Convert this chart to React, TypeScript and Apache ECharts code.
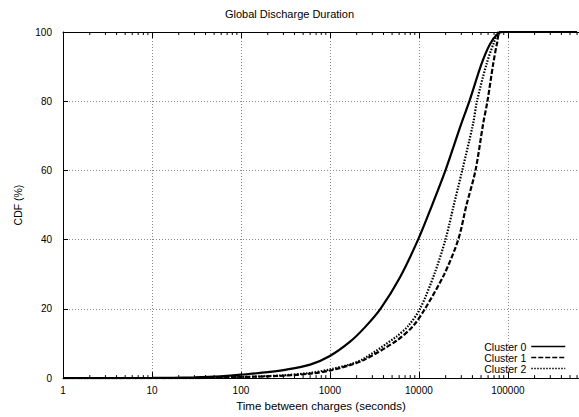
import React, { useEffect, useRef } from "react";
import * as echarts from "echarts";

const titleText = "Global Discharge Duration";
const xAxisName = "Time between charges (seconds)";
const yAxisName = "CDF (%)";
const seriesNames = ["Cluster 0", "Cluster 1", "Cluster 2"];

// [seconds, CDF %]
const cluster0: [number, number][] = [
  [1, 0], [10, 0.05], [30, 0.2], [60, 0.5], [100, 1.0], [200, 1.7], [300, 2.3],
  [600, 3.9], [1000, 6.4], [1700, 10.6], [2500, 14.8], [3700, 20], [6100, 29],
  [9800, 40], [14100, 50], [19900, 60], [30000, 73.5], [37000, 80], [50500, 90.7],
  [62700, 96.4], [77000, 99.5], [90000, 100], [600000, 100],
];
const cluster1: [number, number][] = [
  [1, 0], [30, 0], [100, 0.3], [300, 0.7], [600, 1.3], [1000, 2.2], [1700, 3.8],
  [2400, 5.2], [5600, 10.8], [8650, 15.1], [11700, 20], [19200, 29.9], [27700, 40],
  [34300, 50], [43300, 60], [52800, 73.5], [59000, 80], [68400, 90.7], [76000, 97],
  [83000, 100], [600000, 100],
];
const cluster2: [number, number][] = [
  [1, 0], [30, 0], [100, 0.3], [300, 0.8], [600, 1.5], [1000, 2.5], [1700, 4.0],
  [2400, 5.6], [5600, 12], [7600, 15.1], [10300, 20], [14900, 30], [19900, 40],
  [24700, 50], [30700, 60], [40700, 73.5], [45000, 80], [57600, 90.7], [70000, 97],
  [81000, 100], [600000, 100],
];

const xMin = 1;
const xMax = 630957;
const yTicks = [0, 20, 40, 60, 80, 100];
const minorTickValues = [
  2, 3, 4, 5, 6, 7, 8, 9,
  20, 30, 40, 50, 60, 70, 80, 90,
  200, 300, 400, 500, 600, 700, 800, 900,
  2000, 3000, 4000, 5000, 6000, 7000, 8000, 9000,
  20000, 30000, 40000, 50000, 60000, 70000, 80000, 90000,
  200000, 300000, 400000, 500000, 600000,
];

const FONT = "'Liberation Sans', Arial, Helvetica, sans-serif";

export default function App() {
  const ref = useRef<HTMLDivElement>(null);
  useEffect(() => {
    if (!ref.current) return;
    const chart = echarts.init(ref.current, null, { renderer: "svg" });
    const lineBase = { type: "line", showSymbol: false, symbol: "none", smooth: 0.3, z: 3 };
    chart.setOption({
      animation: false,
      backgroundColor: "#fff",
      textStyle: { fontFamily: FONT },
      title: {
        text: titleText,
        left: "center",
        top: 8,
        padding: 0,
        textStyle: { fontSize: 11, fontWeight: "normal", color: "#000", fontFamily: FONT },
      },
      legend: {
        orient: "vertical",
        right: 13,
        top: 341,
        padding: 0,
        itemGap: 0,
        itemWidth: 34,
        itemHeight: 9.5,
        align: "right",
        data: seriesNames,
        itemStyle: { opacity: 0 },
        lineStyle: { width: 1.5 },
        textStyle: { fontSize: 10.5, lineHeight: 9.5, height: 9.5, color: "#000", fontFamily: FONT },
      },
      grid: { left: 63, right: 0, top: 32, bottom: 36, containLabel: false },
      xAxis: [
        {
          type: "log",
          logBase: 10,
          min: xMin,
          max: xMax,
          name: xAxisName,
          nameLocation: "middle",
          nameGap: 19,
          nameTextStyle: { fontSize: 11.5, color: "#000", fontFamily: FONT },
          axisLine: { show: true, lineStyle: { color: "#000", width: 1 } },
          axisTick: { show: true, inside: true, length: 6, lineStyle: { color: "#000" } },
          axisLabel: {
            showMaxLabel: false,
            margin: 7,
            fontSize: 10,
            color: "#000",
            fontFamily: FONT,
            formatter: (v: number) => String(Math.round(v)),
          },
          splitLine: { show: true, lineStyle: { color: "#888", type: [1, 2], width: 1 } },
        },
        {
          type: "log",
          logBase: 10,
          min: xMin,
          max: xMax,
          position: "top",
          axisLine: { show: true, onZero: false, lineStyle: { color: "#000", width: 1 } },
          axisTick: { show: true, inside: true, length: 6, lineStyle: { color: "#000" } },
          axisLabel: { show: false },
          splitLine: { show: false },
        },
      ],
      yAxis: {
        type: "value",
        min: yTicks[0],
        max: yTicks[yTicks.length - 1],
        interval: 20,
        name: yAxisName,
        nameLocation: "middle",
        nameGap: 40,
        nameTextStyle: { fontSize: 10.5, color: "#000", fontFamily: FONT },
        axisLine: { show: true, lineStyle: { color: "#000", width: 1 } },
        axisTick: { show: true, inside: true, length: 5, lineStyle: { color: "#000" } },
        axisLabel: { margin: 11, fontSize: 10, color: "#000", fontFamily: FONT },
        splitLine: { show: true, lineStyle: { color: "#888", type: [1, 2], width: 1 } },
      },
      series: [
        {
          ...lineBase,
          name: seriesNames[0],
          data: cluster0,
          lineStyle: { color: "#000", width: 2.2, type: "solid" },
          itemStyle: { color: "#000" },
        },
        {
          ...lineBase,
          name: seriesNames[1],
          data: cluster1,
          lineStyle: { color: "#000", width: 2.2, type: [5, 2] },
          itemStyle: { color: "#000" },
        },
        {
          ...lineBase,
          name: seriesNames[2],
          data: cluster2,
          lineStyle: { color: "#000", width: 2.2, type: [1.5, 1.5] },
          itemStyle: { color: "#000" },
        },
        {
          type: "custom",
          name: "minorTicks",
          silent: true,
          xAxisIndex: 0,
          yAxisIndex: 0,
          data: minorTickValues.map((v) => [v, 0]),
          encode: { x: 0, y: 1 },
          renderItem: (_params: any, api: any) => {
            const v = api.value(0);
            const b = api.coord([v, 0]);
            const t = api.coord([v, 100]);
            return {
              type: "group",
              children: [
                { type: "line", shape: { x1: b[0], y1: b[1], x2: b[0], y2: b[1] - 3 }, style: { stroke: "#000", lineWidth: 1 } },
                { type: "line", shape: { x1: t[0], y1: t[1], x2: t[0], y2: t[1] + 3 }, style: { stroke: "#000", lineWidth: 1 } },
              ],
            };
          },
        },
      ],
    });
    return () => chart.dispose();
  }, []);
  return (
    <div
      ref={ref}
      style={{ position: "fixed", left: 0, top: 0, width: 579, height: 417 }}
    />
  );
}
